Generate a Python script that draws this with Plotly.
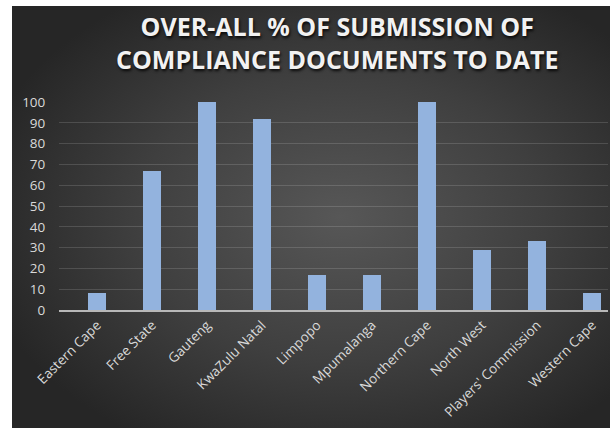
import base64
import plotly.graph_objects as go

categories = ["Eastern Cape", "Free State", "Gauteng", "KwaZulu Natal", "Limpopo",
              "Mpumalanga", "Northern Cape", "North West", "Players' Commission", "Western Cape"]
values = [8.3, 66.7, 100, 92, 16.7, 16.7, 100, 29, 33.3, 8.3]
y_ticks = [0, 10, 20, 30, 40, 50, 60, 70, 80, 90, 100]
title_lines = ["OVER-ALL % OF SUBMISSION OF", "COMPLIANCE DOCUMENTS TO DATE"]

W, H = 610, 428
L, R, T, B = 59, 2, 102, 118
pw, ph = W - L - R, H - T - B

svg = """<svg xmlns='http://www.w3.org/2000/svg' width='600' height='420' preserveAspectRatio='none'>
<defs><radialGradient id='g' cx='0.55' cy='0.5' r='0.62'>
<stop offset='0' stop-color='#575757'/><stop offset='0.55' stop-color='#3f3f3f'/><stop offset='1' stop-color='#262626'/>
</radialGradient></defs><rect width='600' height='420' fill='url(#g)'/></svg>"""
src = "data:image/svg+xml;base64," + base64.b64encode(svg.encode()).decode()

xs = list(range(len(categories)))
fig = go.Figure(go.Bar(
    x=xs, y=values, width=0.33,
    marker=dict(color="#93b3de", line=dict(width=0)),
))

panel_x0, panel_y0 = 12, 6
fig.add_layout_image(dict(
    source=src, xref="paper", yref="paper",
    x=(panel_x0 - L) / pw, y=1 + (T - panel_y0) / ph,
    sizex=(W - panel_x0) / pw, sizey=(H - panel_y0) / ph,
    xanchor="left", yanchor="top", sizing="stretch", layer="below",
))

fig.add_annotation(
    text="<br>".join(title_lines), xref="paper", yref="paper",
    x=(337 - L) / pw, y=1 + (T - 42) / ph, xanchor="center", yanchor="middle",
    showarrow=False, align="center",
    font=dict(family="Open Sans", size=25, color="#f2f2f2", weight="bold",
              shadow="1px 2px 3px rgba(0,0,0,0.85)"),
)

fig.update_layout(
    width=W, height=H, margin=dict(l=L, r=R, t=T, b=B),
    paper_bgcolor="white", plot_bgcolor="rgba(0,0,0,0)",
    showlegend=False, bargap=0,
    font=dict(family="Open Sans", color="#d9d9d9"),
)
fig.update_xaxes(
    range=[-0.691, 9.291], tickmode="array", tickvals=xs, ticktext=categories,
    tickangle=-45, tickfont=dict(size=13.5, color="#d9d9d9"),
    showgrid=False, showline=True, linecolor="#b8b8b8", linewidth=2,
    ticks="", zeroline=False,
)
fig.update_yaxes(
    range=[0, 100], tickvals=y_ticks, tickfont=dict(size=13.5, color="#d9d9d9"),
    showgrid=True, gridcolor="rgba(255,255,255,0.14)", gridwidth=1,
    zeroline=False, showline=False, ticks="outside", ticklen=10, tickcolor="rgba(0,0,0,0)",
)

fig.write_html("out.html", config={"displayModeBar": False},
               post_script="document.body.style.margin='0px';")
